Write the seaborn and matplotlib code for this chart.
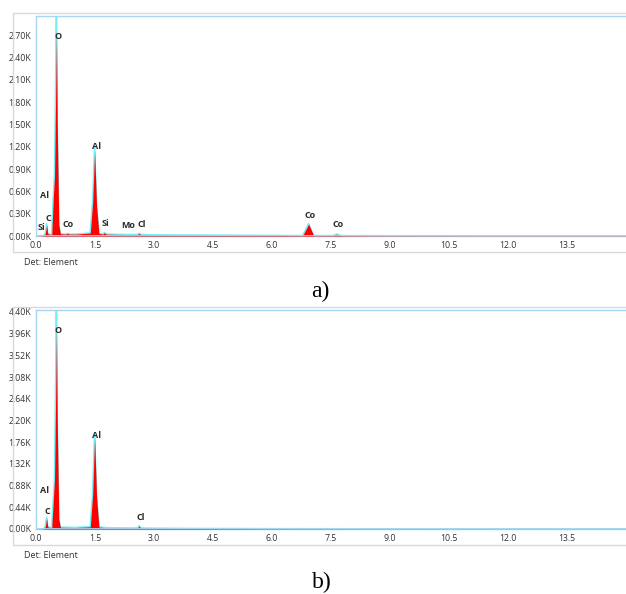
import numpy as np
import matplotlib
matplotlib.use("Agg")
import matplotlib.pyplot as plt
import seaborn as sns
from matplotlib.patches import Rectangle

sns.set_theme(style="white")
plt.rcParams["font.family"] = ["Open Sans", "DejaVu Sans"]

# =========================
# DATA
# =========================
# panel a) spectrum: energy (keV), filled counts (red) and outline counts (cyan)
energy_a = [0.00, 0.20, 0.24, 0.27, 0.30, 0.40, 0.44, 0.47, 0.50, 0.52, 0.54, 0.58, 0.62,
            0.75, 0.80, 0.85, 1.00, 1.38, 1.44, 1.49, 1.54, 1.60, 1.70, 1.74, 1.78,
            2.00, 2.30, 2.58, 2.62, 2.66, 3.00, 4.00, 5.00, 6.00, 6.78, 6.93, 7.06,
            7.55, 7.65, 7.75, 9.00, 12.0, 15.0]
fill_a = [0, 5, 40, 150, 30, 20, 520, 800, 1900, 2750, 1500, 150, 30,
          25, 35, 25, 25, 40, 450, 1150, 400, 35, 25, 45, 25,
          22, 20, 20, 35, 20, 15, 12, 10, 8, 5, 160, 5,
          5, 25, 5, 3, 2, 2]
line_a = [0, 5, 45, 165, 30, 20, 520, 800, 2000, 3300, 1550, 150, 30,
          25, 35, 25, 25, 40, 460, 1190, 410, 35, 25, 45, 25,
          22, 20, 20, 35, 20, 15, 12, 10, 8, 5, 165, 5,
          5, 25, 5, 3, 2, 2]
labels_a = ["Si", "C", "Al", "O", "Co", "Al", "Si", "Mo", "Cl", "Co", "Co"]
label_e_a = [0.13, 0.31, 0.23, 0.55, 0.81, 1.53, 1.77, 2.34, 2.68, 6.97, 7.69]
label_c_a = [120, 230, 540, 2690, 160, 1210, 170, 135, 160, 280, 150]
yticks_a = [0, 300, 600, 900, 1200, 1500, 1800, 2100, 2400, 2700]

# panel b) spectrum
energy_b = [0.00, 0.20, 0.24, 0.27, 0.30, 0.40, 0.44, 0.47, 0.50, 0.52, 0.54, 0.58, 0.62,
            1.00, 1.38, 1.44, 1.49, 1.54, 1.60, 1.80, 2.30, 2.58, 2.62, 2.66,
            3.00, 4.00, 6.00, 9.00, 12.0, 15.0]
fill_b = [0, 5, 60, 220, 40, 25, 590, 1000, 2700, 4100, 2200, 200, 35,
          30, 45, 700, 1870, 650, 40, 25, 20, 20, 60, 20,
          15, 10, 6, 3, 2, 2]
line_b = [0, 5, 65, 235, 40, 25, 600, 1000, 2900, 4800, 2300, 200, 35,
          30, 45, 710, 1910, 660, 40, 25, 20, 20, 65, 20,
          15, 10, 6, 3, 2, 2]
labels_b = ["O", "Al", "Al", "C", "Cl"]
label_e_b = [0.55, 1.53, 0.23, 0.30, 2.67]
label_c_b = [4020, 1900, 785, 345, 237]
yticks_b = [0, 440, 880, 1320, 1760, 2200, 2640, 3080, 3520, 3960, 4400]

xticks = [0.0, 1.5, 3.0, 4.5, 6.0, 7.5, 9.0, 10.5, 12.0, 13.5]

# =========================
# FIGURE
# =========================
W, H = 626, 594
fig = plt.figure(figsize=(W / 100, H / 100), dpi=100)

spine_col = "#a6d6f2"
text_col = "#333333"


def draw_panel(ax, e, fill, line, labels, le, lc, yticks, ymax):
    # cyan outline first, red fill over it so cyan shows only at the tips
    sns.lineplot(x=e, y=line, ax=ax, color="#6ff0f6", lw=1.2, zorder=2)
    ax.fill_between(e, fill, color="#ff0000", lw=0, zorder=3)
    ax.axhline(0, color=spine_col, lw=2, zorder=4)
    for name, x, y in zip(labels, le, lc):
        ax.text(x, y, name, ha="center", va="center", fontsize=6.5,
                fontweight="bold", color="#2b2b2b", zorder=5)
    ax.set_xlim(0, 15.0)
    ax.set_ylim(0, ymax)
    ax.set_xticks(xticks)
    ax.set_xticklabels([f"{v:.1f}" for v in xticks])
    ax.set_yticks(yticks)
    ax.set_yticklabels([f"{v / 1000:.2f}K" for v in yticks])
    ax.tick_params(axis="both", labelsize=6.3, colors=text_col, length=2, width=0.6,
                   pad=1.5)
    ax.tick_params(axis="both", color="#bbbbbb")
    for s in ["left", "top", "bottom"]:
        ax.spines[s].set_color(spine_col)
        ax.spines[s].set_linewidth(1.0)
    ax.spines["right"].set_visible(False)
    ax.set_facecolor("white")
    ax.grid(False)


ax_a = fig.add_axes([36 / W, 1 - 236 / H, 1 - 36 / W, 220 / H])
draw_panel(ax_a, energy_a, fill_a, line_a, labels_a, label_e_a, label_c_a, yticks_a, 2960)

ax_b = fig.add_axes([36 / W, 1 - 529 / H, 1 - 36 / W, 219 / H])
draw_panel(ax_b, energy_b, fill_b, line_b, labels_b, label_e_b, label_c_b, yticks_b, 4440)

# outer frames
for top, bot in [(13, 252), (307, 545)]:
    fig.patches.append(Rectangle((12.5 / W, 1 - bot / H), 1.0, (bot - top) / H,
                                 transform=fig.transFigure, fill=False,
                                 ec="#d9d9d9", lw=1.0, zorder=0))

fig.text(24 / W, 1 - 263 / H, "Det: Element", fontsize=6.5, color=text_col,
         va="center", ha="left")
fig.text(24 / W, 1 - 556 / H, "Det: Element", fontsize=6.5, color=text_col,
         va="center", ha="left")

fig.text(320 / W, 1 - 291 / H, "a)", fontsize=17, family="Liberation Serif",
         ha="center", va="center", color="black")
fig.text(322 / W, 1 - 582 / H, "b)", fontsize=17, family="Liberation Serif",
         ha="center", va="center", color="black")

fig.savefig("out.png", dpi=100)
